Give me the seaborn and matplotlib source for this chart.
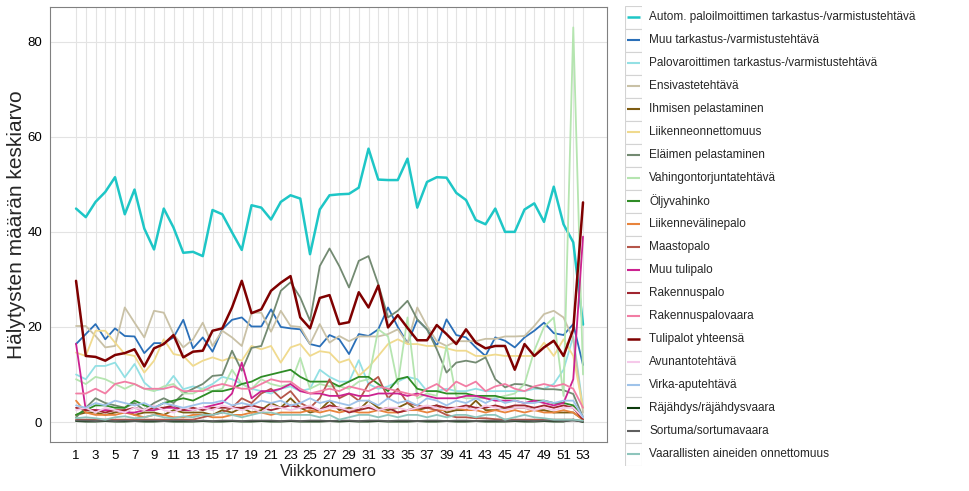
import numpy as np
import pandas as pd
import matplotlib
matplotlib.use('Agg')
import matplotlib.pyplot as plt
import seaborn as sns
from matplotlib.patches import Rectangle

weeks = list(range(1, 54))

labels = ['Autom. paloilmoittimen tarkastus-/varmistustehtävä', 'Muu tarkastus-/varmistustehtävä',
          'Palovaroittimen tarkastus-/varmistustehtävä', 'Ensivastetehtävä', 'Ihmisen pelastaminen',
          'Liikenneonnettomuus', 'Eläimen pelastaminen', 'Vahingontorjuntatehtävä', 'Öljyvahinko',
          'Liikennevälinepalo', 'Maastopalo', 'Muu tulipalo', 'Rakennuspalo', 'Rakennuspalovaara',
          'Tulipalot yhteensä', 'Avunantotehtävä', 'Virka-aputehtävä', 'Räjähdys/räjähdysvaara',
          'Sortuma/sortumavaara', 'Vaarallisten aineiden onnettomuus']

colors = ['#1EC6C6', '#2A6FB8', '#93E0E4', '#C9C1A6', '#7E5C12', '#F0DA8E', '#738A72', '#B5E5B0',
          '#2F8C26', '#E8843C', '#B5564A', '#CC2290', '#A0252F', '#F27DA4', '#7F0000', '#F6C9EA',
          '#9FC3EA', '#0C3A0C', '#5F5F5F', '#8EC5BC']

autom = [44.9, 43.1, 46.3, 48.4, 51.5, 43.7, 48.9, 40.7, 36.3, 44.9, 40.9, 35.6, 35.8, 34.9, 44.6, 43.7, 39.9, 36.2,
         45.6, 45.1, 42.6, 46.3, 47.7, 47.0, 35.3, 44.7, 47.7, 47.9, 48.0, 49.3, 57.5, 51.0, 50.9, 50.9, 55.4, 45.1,
         50.5, 51.5, 51.4, 48.2, 46.7, 42.5, 41.6, 44.9, 40.0, 40.0, 44.7, 46.0, 42.1, 49.5, 41.6, 37.8, 20.5]
muu_tark = [16.4, 18.5, 20.6, 17.4, 19.7, 18.1, 18.0, 14.5, 16.6, 16.6, 17.8, 21.5, 15.5, 17.8, 14.8, 19.5, 21.5, 22.0,
            20.1, 20.1, 23.7, 20.0, 19.7, 19.5, 16.4, 15.9, 18.3, 17.4, 14.3, 18.5, 18.1, 19.5, 24.1, 20.0, 16.6, 21.5,
            19.5, 16.0, 21.6, 18.3, 17.8, 15.7, 13.9, 17.8, 17.1, 15.7, 17.8, 19.2, 20.9, 18.7, 18.3, 20.6, 12.0]
palovar = [10.0, 9.0, 11.8, 11.8, 12.5, 9.4, 12.2, 8.3, 6.6, 7.0, 9.7, 6.9, 7.5, 7.0, 8.0, 9.5, 9.0, 8.0,
           7.0, 6.5, 6.0, 7.0, 7.5, 6.5, 7.0, 11.0, 9.5, 8.5, 8.5, 13.0, 8.0, 7.0, 7.5, 8.5, 9.5, 9.0,
           6.5, 6.5, 7.0, 6.5, 6.5, 7.0, 6.5, 6.5, 6.5, 6.5, 6.5, 7.0, 7.0, 8.0, 11.0, 18.0, 3.0]
ensivaste = [20.2, 20.2, 18.1, 15.7, 16.0, 24.1, 20.9, 17.8, 23.4, 23.0, 18.5, 15.7, 17.4, 20.9, 16.0, 19.2, 17.8, 16.0,
             23.0, 23.0, 19.0, 23.4, 20.2, 20.0, 16.4, 20.6, 16.7, 18.1, 17.0, 18.0, 18.0, 18.0, 18.5, 19.5, 16.5, 24.1,
             20.2, 17.0, 16.0, 17.0, 17.0, 17.0, 17.5, 17.5, 18.0, 18.0, 18.1, 20.2, 22.7, 23.4, 22.0, 17.4, 2.0]
ihmisen = [1.5, 2.0, 2.0, 1.5, 2.0, 2.5, 1.5, 2.0, 2.0, 1.5, 2.5, 2.0, 2.0, 2.0, 1.5, 2.5, 2.0, 3.0,
           2.0, 2.5, 4.0, 3.0, 5.0, 3.0, 2.0, 2.5, 4.5, 2.5, 3.0, 2.5, 4.5, 3.0, 2.5, 3.0, 4.0, 2.5,
           3.0, 3.5, 2.0, 2.5, 2.5, 4.5, 2.5, 2.5, 3.0, 3.0, 3.0, 2.5, 2.5, 2.0, 2.0, 2.0, 0.5]
liikenne = [14.6, 13.9, 19.2, 19.2, 16.7, 14.3, 13.9, 10.4, 12.9, 17.4, 14.3, 13.9, 11.8, 12.9, 13.6, 12.9, 13.6, 12.9,
            16.0, 15.3, 16.0, 12.5, 15.7, 16.4, 13.9, 14.9, 14.6, 12.5, 13.2, 9.7, 11.5, 13.9, 16.4, 17.4, 16.4, 16.4,
            16.0, 16.0, 15.5, 15.0, 15.0, 13.9, 13.9, 14.2, 13.9, 13.9, 13.9, 13.9, 16.7, 13.9, 17.4, 13.9, 3.0]
elaimen = [1.0, 3.0, 5.0, 4.0, 3.5, 3.0, 4.0, 2.5, 4.0, 5.0, 4.0, 6.0, 7.0, 8.0, 9.7, 9.9, 15.0, 10.8,
           15.6, 16.0, 21.6, 27.6, 29.4, 26.2, 21.3, 32.8, 36.5, 32.8, 28.3, 33.9, 34.9, 29.0, 22.0, 23.4, 25.5, 21.6,
           19.5, 15.3, 10.4, 12.5, 12.9, 12.5, 13.6, 9.0, 7.3, 8.0, 7.9, 7.3, 6.9, 6.9, 6.7, 5.9, 1.0]
vahingon = [9.0, 8.0, 9.5, 9.0, 8.0, 7.0, 8.0, 7.0, 6.5, 7.5, 8.0, 6.0, 6.0, 7.0, 6.5, 7.0, 11.0, 8.0,
            7.0, 9.0, 8.0, 7.5, 8.0, 13.5, 7.0, 8.0, 7.5, 7.5, 7.0, 8.5, 9.0, 19.5, 18.0, 8.0, 22.0, 5.0,
            6.0, 5.5, 16.0, 5.5, 5.0, 5.0, 5.0, 5.0, 5.5, 6.0, 8.0, 15.0, 20.0, 22.0, 5.5, 83.0, 10.0]
oljy = [1.5, 2.5, 3.5, 3.5, 3.0, 3.0, 4.5, 3.5, 3.0, 4.0, 4.5, 5.0, 4.5, 5.5, 6.5, 6.5, 7.0, 8.0,
        8.5, 9.5, 10.0, 10.5, 11.0, 9.5, 8.5, 8.5, 8.5, 7.5, 8.5, 9.5, 9.5, 8.0, 6.5, 9.0, 9.5, 7.0,
        6.5, 6.5, 6.0, 6.0, 6.0, 5.5, 5.5, 5.5, 5.0, 5.0, 5.0, 4.5, 4.5, 4.0, 4.0, 3.5, 1.0]
liikennevaline = [4.5, 2.0, 1.5, 1.5, 1.5, 2.0, 1.5, 1.0, 1.5, 1.5, 1.0, 1.0, 1.5, 1.5, 1.0, 1.0, 1.5, 1.5,
                  2.0, 2.0, 1.5, 2.0, 2.0, 2.0, 2.5, 2.0, 2.5, 2.0, 2.5, 2.0, 2.0, 2.5, 2.0, 2.0, 2.5, 2.5,
                  2.0, 2.5, 2.5, 3.0, 2.5, 2.5, 2.0, 2.5, 2.0, 2.5, 2.0, 2.5, 2.0, 2.0, 2.5, 2.0, 0.5]
maasto = [0.5, 0.5, 0.5, 0.5, 0.5, 0.5, 0.5, 0.5, 0.5, 0.5, 0.5, 0.5, 0.5, 1.0, 1.5, 2.0, 3.0, 5.0,
          4.0, 6.0, 7.0, 5.0, 6.5, 4.0, 3.0, 5.0, 9.0, 5.0, 6.0, 4.5, 8.0, 9.5, 5.0, 7.0, 4.0, 3.5,
          3.0, 2.5, 1.5, 1.0, 1.0, 0.8, 0.8, 0.6, 0.5, 0.5, 0.5, 0.5, 0.5, 0.5, 0.5, 0.5, 0.2]
muu_tuli = [16.5, 2.5, 2.5, 2.5, 2.5, 2.0, 2.0, 2.5, 2.5, 3.0, 3.0, 2.5, 2.5, 3.0, 3.5, 4.0, 6.0, 12.5,
            5.0, 6.5, 6.5, 7.0, 8.0, 6.5, 6.0, 6.0, 5.5, 5.5, 6.0, 5.5, 5.5, 6.0, 6.0, 6.0, 5.5, 6.0,
            5.5, 5.0, 5.0, 5.0, 5.5, 5.5, 5.0, 4.5, 4.5, 4.5, 4.0, 4.5, 4.0, 3.5, 4.0, 9.0, 39.0]
rakpalo = [3.0, 2.5, 2.5, 2.0, 2.5, 2.5, 3.0, 2.5, 3.0, 3.0, 3.5, 2.5, 3.0, 2.5, 3.0, 3.0, 3.0, 3.0,
           3.5, 3.0, 2.5, 3.0, 3.5, 3.0, 3.0, 2.5, 3.5, 3.0, 2.0, 2.5, 3.0, 2.5, 3.0, 2.0, 2.5, 3.0,
           3.0, 3.5, 3.0, 3.0, 3.5, 3.0, 3.0, 3.5, 3.0, 3.5, 3.5, 3.0, 3.5, 3.0, 3.5, 3.0, 0.5]
rakpalovaara = [6.0, 6.0, 7.0, 6.0, 8.0, 8.5, 8.0, 7.0, 7.0, 7.0, 7.5, 6.5, 6.5, 6.5, 7.5, 8.0, 7.5, 7.0,
                7.0, 8.0, 9.0, 8.5, 8.5, 7.0, 6.0, 6.5, 7.0, 6.5, 7.5, 7.0, 6.5, 7.5, 7.0, 6.5, 6.0, 5.5,
                7.0, 8.0, 6.5, 8.5, 7.5, 8.5, 6.5, 7.5, 8.0, 7.0, 6.5, 7.5, 8.0, 7.5, 8.0, 7.0, 3.0]
tulipalot = [29.7, 13.9, 13.7, 12.9, 14.1, 14.5, 15.3, 11.7, 15.5, 16.4, 18.3, 13.6, 14.8, 15.0, 19.2, 19.7, 24.1, 29.7,
             22.9, 23.7, 27.6, 29.3, 30.7, 22.0, 19.7, 26.1, 26.7, 20.6, 21.0, 27.3, 24.1, 28.7, 19.9, 22.5, 19.8, 17.2,
             17.2, 20.4, 18.5, 16.4, 19.5, 16.7, 15.5, 16.0, 16.0, 11.0, 16.4, 13.9, 15.7, 17.1, 13.9, 19.5, 46.2]
avunanto = [2.5, 3.0, 2.0, 3.0, 2.5, 2.0, 3.0, 2.5, 3.5, 2.5, 2.0, 3.0, 2.5, 3.0, 2.5, 3.5, 3.0, 2.5,
            3.0, 2.0, 3.5, 3.0, 2.5, 3.0, 3.5, 2.5, 3.0, 3.0, 2.5, 3.0, 3.5, 2.5, 3.0, 3.0, 2.5, 3.0,
            3.5, 3.0, 2.5, 3.0, 3.0, 2.5, 3.5, 3.0, 2.5, 3.0, 3.0, 2.5, 3.0, 2.5, 3.0, 3.0, 1.0]
virka = [3.5, 3.0, 4.0, 3.5, 4.5, 4.0, 3.5, 4.0, 3.0, 4.0, 3.5, 3.0, 3.5, 4.0, 4.0, 4.5, 3.5, 4.0,
         3.5, 4.5, 4.0, 4.5, 3.5, 4.0, 5.0, 4.0, 4.5, 4.0, 3.5, 4.5, 4.5, 3.5, 5.0, 4.0, 4.5, 3.5,
         5.0, 4.5, 3.5, 4.5, 4.0, 5.0, 4.0, 5.0, 4.0, 4.5, 4.0, 4.0, 4.5, 4.0, 4.5, 4.5, 1.0]
rajahdys = [0.2, 0.1, 0.1, 0.2, 0.1, 0.1, 0.2, 0.1, 0.1, 0.2, 0.1, 0.1, 0.1, 0.2, 0.1, 0.1, 0.2, 0.1,
            0.1, 0.2, 0.1, 0.1, 0.2, 0.1, 0.1, 0.1, 0.2, 0.1, 0.2, 0.1, 0.1, 0.2, 0.1, 0.1, 0.1, 0.2,
            0.1, 0.1, 0.2, 0.1, 0.1, 0.2, 0.1, 0.1, 0.1, 0.2, 0.1, 0.1, 0.2, 0.1, 0.1, 0.5, 0.0]
sortuma = [0.3, 0.3, 0.2, 0.3, 0.2, 0.3, 0.2, 0.3, 0.3, 0.2, 0.3, 0.3, 0.2, 0.3, 0.2, 0.3, 0.3, 0.2,
           0.3, 0.3, 0.3, 0.2, 0.3, 0.2, 0.3, 0.3, 0.2, 0.3, 0.3, 0.2, 0.3, 0.3, 0.2, 0.3, 0.3, 0.2,
           0.3, 0.3, 0.2, 0.3, 0.3, 0.2, 0.3, 0.3, 0.2, 0.3, 0.3, 0.2, 0.3, 0.3, 0.2, 0.3, 0.1]
vaaralliset = [0.8, 1.0, 0.8, 0.5, 1.0, 1.2, 0.8, 1.0, 1.5, 1.0, 0.8, 1.2, 1.0, 1.5, 1.5, 2.0, 1.5, 1.0,
               1.5, 2.0, 2.0, 1.5, 1.5, 1.5, 1.5, 1.0, 1.5, 0.5, 1.0, 1.5, 1.5, 1.0, 1.5, 1.0, 1.5, 1.5,
               1.0, 1.5, 1.0, 1.5, 1.5, 1.0, 1.5, 1.5, 0.5, 1.0, 1.5, 1.0, 0.8, 0.5, 0.5, 0.5, 0.3]

series = [autom, muu_tark, palovar, ensivaste, ihmisen, liikenne, elaimen, vahingon, oljy,
          liikennevaline, maasto, muu_tuli, rakpalo, rakpalovaara, tulipalot, avunanto, virka,
          rajahdys, sortuma, vaaralliset]

rows = []
for lab, vals in zip(labels, series):
    assert len(vals) == 53, lab
    for w, v in zip(weeks, vals):
        rows.append((w, v, lab))
df = pd.DataFrame(rows, columns=['viikko', 'arvo', 'tyyppi'])

sns.set_style('white')
plt.rcParams['font.family'] = ['Liberation Sans', 'DejaVu Sans']

fig = plt.figure(figsize=(9.7, 4.91), dpi=100)
ax = fig.add_axes([50 / 970, 1 - 442 / 491, 557 / 970, 435 / 491])

palette = dict(zip(labels, colors))
sns.lineplot(data=df, x='viikko', y='arvo', hue='tyyppi', hue_order=labels, palette=palette,
             estimator=None, linewidth=1.3, legend=False, ax=ax)
thick = {labels[0], labels[14]}
for line, lab in zip(ax.lines, labels):
    line.set_solid_joinstyle('round')
    if lab in thick:
        line.set_linewidth(1.8)

ax.set_xlim(-1.67, 55.46)
ax.set_ylim(-4.2, 87.3)
ax.set_xticks(range(1, 54, 2))
ax.set_xticks(range(2, 54, 2), minor=True)
ax.set_yticks([0, 20, 40, 60, 80])
ax.grid(True, which='both', axis='x', color='#E3E3E3', linewidth=0.8)
ax.grid(True, which='major', axis='y', color='#E3E3E3', linewidth=0.8)
ax.set_axisbelow(True)
for s in ax.spines.values():
    s.set_color('#808080')
    s.set_linewidth(0.8)
ax.tick_params(which='major', length=3.5, color='#808080', width=0.8, labelsize=9.5,
               labelcolor='black', pad=2)
ax.tick_params(which='minor', length=0)
ax.set_xlabel('Viikkonumero', fontsize=11.5, labelpad=2)
ax.set_ylabel('Hälytysten määrän keskiarvo', fontsize=15, labelpad=1)

# legend with ggplot-like key boxes
lax = fig.add_axes([625 / 970, 1 - 465.5 / 491, 17 / 970, 460 / 491])
lax.set_xlim(0, 1)
lax.set_ylim(len(labels), 0)
lax.axis('off')
for i, (lab, col) in enumerate(zip(labels, colors)):
    lax.add_patch(Rectangle((0, i), 1, 1, facecolor='white', edgecolor='#D3D3D3', linewidth=0.8))
    lax.plot([0.1, 0.9], [i + 0.5, i + 0.5], color=col, linewidth=1.8 if lab in thick else 1.5,
             solid_capstyle='butt')
    lax.text(24 / 17, i + 0.5, lab, fontsize=8.5, va='center', ha='left', clip_on=False)

fig.savefig('out.png', dpi=100)
